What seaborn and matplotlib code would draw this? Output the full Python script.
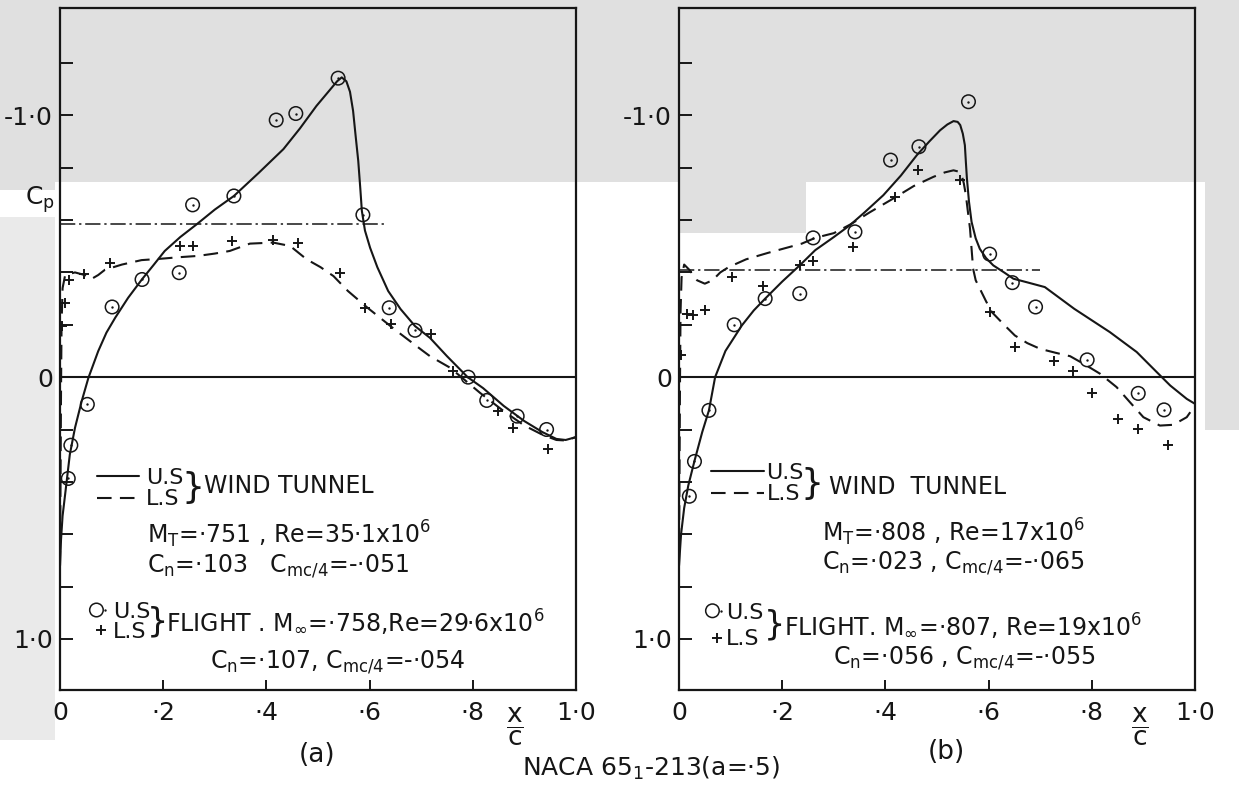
import matplotlib
matplotlib.use("Agg")
import matplotlib.pyplot as plt
from matplotlib.patches import Rectangle
from matplotlib.legend_handler import HandlerTuple
import seaborn as sns

# ---------------- (a) M = .751 ----------------
a_us_wt_x = [0.000, 0.002, 0.005, 0.010, 0.019, 0.029, 0.042, 0.055, 0.074, 0.090,
             0.107, 0.132, 0.159, 0.180, 0.203, 0.233, 0.265, 0.300, 0.337, 0.385,
             0.433, 0.465, 0.497, 0.520, 0.537, 0.546, 0.555, 0.562, 0.568, 0.573,
             0.578, 0.582, 0.585, 0.591, 0.601, 0.615, 0.636, 0.660, 0.688, 0.717,
             0.750, 0.790, 0.820, 0.860, 0.900, 0.935, 0.962, 0.980, 1.000]
a_us_wt_cp = [0.72, 0.62, 0.53, 0.447, 0.296, 0.194, 0.092, 0.003, -0.099, -0.17,
              -0.227, -0.303, -0.374, -0.425, -0.482, -0.535, -0.584, -0.64, -0.692, -0.78,
              -0.871, -0.95, -1.036, -1.09, -1.13, -1.145, -1.13, -1.09, -1.017, -0.92,
              -0.826, -0.72, -0.635, -0.56, -0.494, -0.42, -0.329, -0.26, -0.195, -0.15,
              -0.08, 0.0, 0.042, 0.11, 0.168, 0.21, 0.236, 0.24, 0.229]

a_ls_wt_x = [0.000, 0.001, 0.002, 0.003, 0.005, 0.010, 0.029, 0.048, 0.061, 0.074,
             0.087, 0.120, 0.158, 0.194, 0.230, 0.267, 0.300, 0.329, 0.368, 0.413,
             0.446, 0.478, 0.505, 0.530, 0.558, 0.596, 0.650, 0.700, 0.717, 0.756,
             0.814, 0.860, 0.900, 0.935, 0.962, 0.980, 1.000]
a_ls_wt_cp = [0.72, 0.40, 0.05, -0.20, -0.34, -0.39, -0.40, -0.39, -0.375, -0.39,
              -0.41, -0.43, -0.447, -0.452, -0.458, -0.463, -0.472, -0.482, -0.51, -0.514,
              -0.501, -0.45, -0.42, -0.386, -0.329, -0.265, -0.18, -0.105, -0.08, -0.036,
              0.06, 0.13, 0.185, 0.22, 0.24, 0.242, 0.229]

a_us_fl_x = [0.016, 0.021, 0.053, 0.101, 0.159, 0.231, 0.257, 0.337, 0.419, 0.457,
             0.539, 0.587, 0.638, 0.688, 0.791, 0.827, 0.886, 0.943]
a_us_fl_cp = [0.387, 0.260, 0.104, -0.268, -0.373, -0.399, -0.658, -0.692, -0.982, -1.007,
              -1.142, -0.620, -0.265, -0.179, 0.000, 0.089, 0.149, 0.200]

a_ls_fl_x = [0.003, 0.010, 0.017, 0.047, 0.097, 0.233, 0.258, 0.333, 0.412, 0.462,
             0.543, 0.592, 0.641, 0.719, 0.762, 0.849, 0.878, 0.946]
a_ls_fl_cp = [-0.195, -0.284, -0.370, -0.395, -0.437, -0.501, -0.501, -0.520, -0.523, -0.514,
              -0.399, -0.265, -0.204, -0.166, -0.023, 0.130, 0.194, 0.273]

a_crit_x = [0.0, 0.633]
a_crit_cp = [-0.586, -0.586]

# ---------------- (b) M = .808 ----------------
b_us_wt_x = [0.000, 0.004, 0.010, 0.018, 0.030, 0.045, 0.058, 0.070, 0.090, 0.122,
             0.145, 0.167, 0.200, 0.234, 0.264, 0.300, 0.331, 0.360, 0.396, 0.430,
             0.461, 0.485, 0.506, 0.520, 0.532, 0.540, 0.545, 0.550, 0.554, 0.556,
             0.558, 0.562, 0.567, 0.575, 0.583, 0.595, 0.609, 0.630, 0.648, 0.675,
             0.709, 0.766, 0.835, 0.887, 0.926, 0.952, 0.984, 1.000]
b_us_wt_cp = [0.72, 0.60, 0.50, 0.414, 0.32, 0.21, 0.127, 0.0, -0.10, -0.198,
              -0.255, -0.30, -0.365, -0.427, -0.485, -0.535, -0.58, -0.63, -0.695, -0.77,
              -0.848, -0.90, -0.943, -0.965, -0.978, -0.975, -0.963, -0.93, -0.886, -0.82,
              -0.758, -0.67, -0.593, -0.53, -0.49, -0.455, -0.427, -0.40, -0.376, -0.362,
              -0.344, -0.261, -0.172, -0.096, -0.019, 0.032, 0.083, 0.102]

b_ls_wt_x = [0.000, 0.001, 0.002, 0.003, 0.005, 0.010, 0.020, 0.035, 0.050, 0.065,
             0.080, 0.096, 0.130, 0.173, 0.238, 0.264, 0.300, 0.331, 0.370, 0.415,
             0.455, 0.493, 0.515, 0.532, 0.542, 0.548, 0.552, 0.556, 0.560, 0.564,
             0.567, 0.570, 0.575, 0.583, 0.595, 0.606, 0.630, 0.651, 0.675, 0.700,
             0.730, 0.758, 0.785, 0.816, 0.848, 0.874, 0.900, 0.932, 0.958, 0.984,
             1.000]
b_ls_wt_cp = [0.72, 0.35, 0.0, -0.25, -0.38, -0.43, -0.41, -0.37, -0.357, -0.37,
              -0.40, -0.42, -0.45, -0.475, -0.51, -0.532, -0.55, -0.582, -0.63, -0.682,
              -0.73, -0.765, -0.782, -0.79, -0.785, -0.77, -0.74, -0.695, -0.63, -0.567,
              -0.49, -0.414, -0.37, -0.338, -0.29, -0.249, -0.20, -0.159, -0.13, -0.108,
              -0.093, -0.08, -0.05, -0.013, 0.038, 0.096, 0.153, 0.185, 0.182, 0.153,
              0.108]

b_us_fl_x = [0.020, 0.030, 0.058, 0.107, 0.167, 0.234, 0.260, 0.341, 0.410, 0.465,
             0.561, 0.602, 0.646, 0.691, 0.791, 0.890, 0.940]
b_us_fl_cp = [0.455, 0.322, 0.127, -0.200, -0.300, -0.319, -0.532, -0.555, -0.829, -0.880,
              -1.052, -0.470, -0.361, -0.268, -0.066, 0.062, 0.125]

b_ls_fl_x = [0.004, 0.016, 0.028, 0.050, 0.103, 0.163, 0.234, 0.260, 0.338, 0.419,
             0.464, 0.545, 0.602, 0.651, 0.727, 0.764, 0.800, 0.850, 0.890, 0.948]
b_ls_fl_cp = [-0.083, -0.240, -0.238, -0.255, -0.382, -0.350, -0.427, -0.444, -0.497, -0.688,
              -0.790, -0.752, -0.249, -0.115, -0.060, -0.022, 0.059, 0.159, 0.198, 0.261]

b_crit_x = [0.0, 0.70]
b_crit_cp = [-0.408, -0.408]

# ---------------- axis ticks ----------------
x_ticks = [0.0, 0.2, 0.4, 0.6, 0.8, 1.0]
x_tick_labels = ["0", "·2", "·4", "·6", "·8", "1·0"]
y_major = [-1.0, 0.0, 1.0]
y_major_labels = ["-1·0", "0", "1·0"]
y_minor = [-1.2, -0.8, -0.6, -0.4, -0.2, 0.2, 0.4, 0.6, 0.8]

INK = "#161616"
PAPER = "#e0e0e0"
W, H = 1239, 789

sns.set_style("ticks")
plt.rcParams["font.family"] = ["DejaVu Sans"]
plt.rcParams["mathtext.fontset"] = "dejavusans"
plt.rcParams["text.color"] = INK

fig = plt.figure(figsize=(W / 100, H / 100), dpi=100)
fig.patch.set_facecolor(PAPER)


def fx(px):
    return px / W


def fy(py):
    return 1 - py / H


def paper(x0, y0, x1, y1, color):
    fig.add_artist(Rectangle((fx(x0), fy(y1)), (x1 - x0) / W, (y1 - y0) / H,
                             transform=fig.transFigure, facecolor=color,
                             edgecolor="none", zorder=-10))


# uneven paper tone of the printed page
paper(55, 182, 1205, 789, "white")
paper(0, 190, 158, 217, "white")
paper(0, 217, 55, 740, "#eaeaea")
paper(0, 740, 1239, 789, "white")
paper(1205, 430, 1239, 789, "white")
paper(679, 182, 806, 233, PAPER)


def ftext(px, py, s, size=17, ha="left", **kw):
    fig.text(fx(px), fy(py), s, fontsize=size, ha=ha, va="center", color=INK, **kw)


def draw_panel(ax, us_x, us_cp, ls_x, ls_cp, fu_x, fu_cp, fl_x, fl_cp, cr_x, cr_cp):
    ax.set_facecolor("none")
    ax.axhline(0, color=INK, lw=1.5, zorder=1)

    sns.lineplot(x=cr_x, y=cr_cp, ax=ax, color=INK, lw=1.1, sort=False, estimator=None)
    ax.lines[-1].set_dashes([10, 2.5, 1.5, 2.5])

    sns.lineplot(x=us_x, y=us_cp, ax=ax, color=INK, lw=1.5, sort=False, estimator=None)
    us_line = ax.lines[-1]
    sns.lineplot(x=ls_x, y=ls_cp, ax=ax, color=INK, lw=1.5, sort=False, estimator=None)
    ls_line = ax.lines[-1]
    ls_line.set_dashes([7, 4])

    sns.scatterplot(x=fu_x, y=fu_cp, ax=ax, marker="o", s=95, facecolors="none",
                    edgecolor=INK, linewidth=1.1, zorder=3)
    circ = ax.collections[-1]
    sns.scatterplot(x=fu_x, y=fu_cp, ax=ax, marker="o", s=3, color=INK,
                    edgecolor=INK, linewidth=0, zorder=3)
    dot = ax.collections[-1]
    sns.scatterplot(x=fl_x, y=fl_cp, ax=ax, marker="+", s=62, color=INK,
                    linewidth=1.4, zorder=3)
    plus = ax.collections[-1]

    ax.set_xlim(0, 1)
    ax.set_ylim(1.195, -1.41)
    ax.set_xticks(x_ticks)
    ax.set_xticklabels(x_tick_labels)
    ax.set_yticks(y_major)
    ax.set_yticklabels(y_major_labels)
    ax.set_yticks(y_minor, minor=True)
    ax.tick_params(axis="both", which="both", direction="in", color=INK, width=1.4,
                   labelcolor=INK)
    ax.tick_params(axis="y", which="both", length=9, left=True, right=False)
    ax.tick_params(axis="y", which="major", pad=5, labelsize=18)
    ax.tick_params(axis="x", which="major", length=7, pad=8, labelsize=18,
                   bottom=True, top=False)
    ax.set_xlabel("")
    ax.set_ylabel("")
    for sp in ax.spines.values():
        sp.set_visible(True)
        sp.set_linewidth(1.6)
        sp.set_color(INK)
    return us_line, ls_line, circ, dot, plus


def legends(ax, handles, wt_anchor, wt_len, wt_pad, wt_sp, fl_anchor, fl_pad, fl_sp):
    us_line, ls_line, circ, dot, plus = handles
    leg = ax.legend([us_line, ls_line], ["U.S", "L.S"], loc="center left",
                    bbox_to_anchor=(fx(wt_anchor[0]), fy(wt_anchor[1])),
                    bbox_transform=fig.transFigure, frameon=False, fontsize=16,
                    handlelength=wt_len, handletextpad=wt_pad, labelspacing=wt_sp,
                    borderpad=0, borderaxespad=0)
    ax.add_artist(leg)
    ax.legend([(circ, dot), plus], ["U.S", "L.S"], loc="center left",
              bbox_to_anchor=(fx(fl_anchor[0]), fy(fl_anchor[1])),
              bbox_transform=fig.transFigure, frameon=False, fontsize=16,
              handler_map={tuple: HandlerTuple(ndivide=None)}, scatteryoffsets=[0.5],
              handlelength=0.8, handletextpad=fl_pad, labelspacing=fl_sp,
              borderpad=0, borderaxespad=0)


ax_a = fig.add_axes([fx(60), fy(690), 516 / W, 682 / H])
ax_b = fig.add_axes([fx(679), fy(690), 516 / W, 682 / H])

h_a = draw_panel(ax_a, a_us_wt_x, a_us_wt_cp, a_ls_wt_x, a_ls_wt_cp,
                 a_us_fl_x, a_us_fl_cp, a_ls_fl_x, a_ls_fl_cp, a_crit_x, a_crit_cp)
h_b = draw_panel(ax_b, b_us_wt_x, b_us_wt_cp, b_ls_wt_x, b_ls_wt_cp,
                 b_us_fl_x, b_us_fl_cp, b_ls_fl_x, b_ls_fl_cp, b_crit_x, b_crit_cp)

legends(ax_a, h_a, (97, 488.5), 1.9, 0.3, 0.08, (92, 622), 0.15, 0.02)
legends(ax_b, h_b, (711, 483.5), 2.4, 0.1, 0.08, (708, 626), 0.0, 0.31)

# ---- panel (a) annotations ----
ftext(25, 200, "C$_\\mathregular{p}$", size=18)
ftext(193, 488, "}", size=26, ha="center")
ftext(204, 486, "WIND TUNNEL")
ftext(147, 534, "M$_\\mathregular{T}$=·751 , Re=35·1x10$^\\mathregular{6}$")
ftext(147, 566, "C$_\\mathregular{n}$=·103   C$_\\mathregular{mc/4}$=-·051")
ftext(157, 622, "}", size=24, ha="center")
ftext(166, 622, "FLIGHT . M$_\\infty$=·758,Re=29·6x10$^\\mathregular{6}$")
ftext(210, 662, "C$_\\mathregular{n}$=·107, C$_\\mathregular{mc/4}$=-·054")
ftext(515, 727, r"$\dfrac{\mathrm{x}}{\mathrm{c}}$", size=19, ha="center")
ftext(317, 755, "(a)", size=19, ha="center")

# ---- panel (b) annotations ----
ftext(812, 484, "}", size=26, ha="center")
ftext(829, 487, "WIND  TUNNEL")
ftext(822, 532, "M$_\\mathregular{T}$=·808 , Re=17x10$^\\mathregular{6}$")
ftext(822, 563, "C$_\\mathregular{n}$=·023 , C$_\\mathregular{mc/4}$=-·065")
ftext(774, 625, "}", size=24, ha="center")
ftext(784, 625, "FLIGHT. M$_\\infty$=·807, Re=19x10$^\\mathregular{6}$")
ftext(833, 658, "C$_\\mathregular{n}$=·056 , C$_\\mathregular{mc/4}$=-·055")
ftext(1140, 727, r"$\dfrac{\mathrm{x}}{\mathrm{c}}$", size=19, ha="center")
ftext(946, 752, "(b)", size=19, ha="center")

ftext(651, 768, "NACA 65$_\\mathregular{1}$-213(a=·5)", size=18, ha="center")

fig.savefig("out.png", dpi=100, facecolor=fig.get_facecolor())
